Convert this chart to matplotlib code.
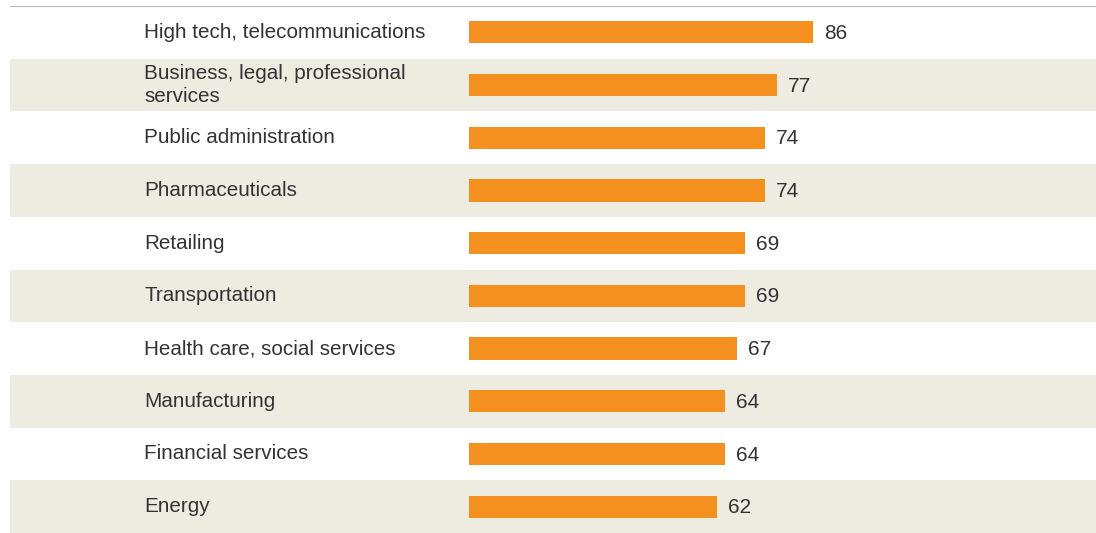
import matplotlib.pyplot as plt

plt.rcParams['font.family'] = ['Liberation Sans', 'DejaVu Sans']

sectors = ["High tech, telecommunications",
           "Business, legal, professional\nservices",
           "Public administration",
           "Pharmaceuticals",
           "Retailing",
           "Transportation",
           "Health care, social services",
           "Manufacturing",
           "Financial services",
           "Energy"]
scores = [86, 77, 74, 74, 69, 69, 67, 64, 64, 62]

bar_color = "#F39020"
band_color = "#EEEBE0"
text_color = "#333333"

fig = plt.figure(figsize=(10.96, 5.33), dpi=100)
# axes spans from the left edge of the bands to the right of the figure
ax = fig.add_axes([10 / 1096, 0, 1 - 10 / 1096, (533 - 6) / 533])

px = 4.0  # pixels per unit
ax.set_xlim((10 - 469) / px, (1096 - 469) / px)
ax.set_ylim(len(sectors) - 0.5, -0.5)

for i in range(len(sectors)):
    if i % 2 == 1:
        ax.axhspan(i - 0.5, i + 0.5, color=band_color, lw=0, zorder=0)

ax.axhline(-0.5, color="#b5b5b5", lw=1.5, zorder=3)

ys = list(range(len(sectors)))
ax.barh(ys, scores, height=0.42, color=bar_color, zorder=2)

label_x = (144 - 469) / px
for y, name, v in zip(ys, sectors, scores):
    ax.text(label_x, y, name, ha="left", va="center", fontsize=14.9,
            color=text_color, linespacing=1.3)
    ax.text(v + 2.8, y + 0.02, str(v), ha="left", va="center", fontsize=15,
            color=text_color)

ax.axis("off")
fig.savefig("out.png", dpi=100)
